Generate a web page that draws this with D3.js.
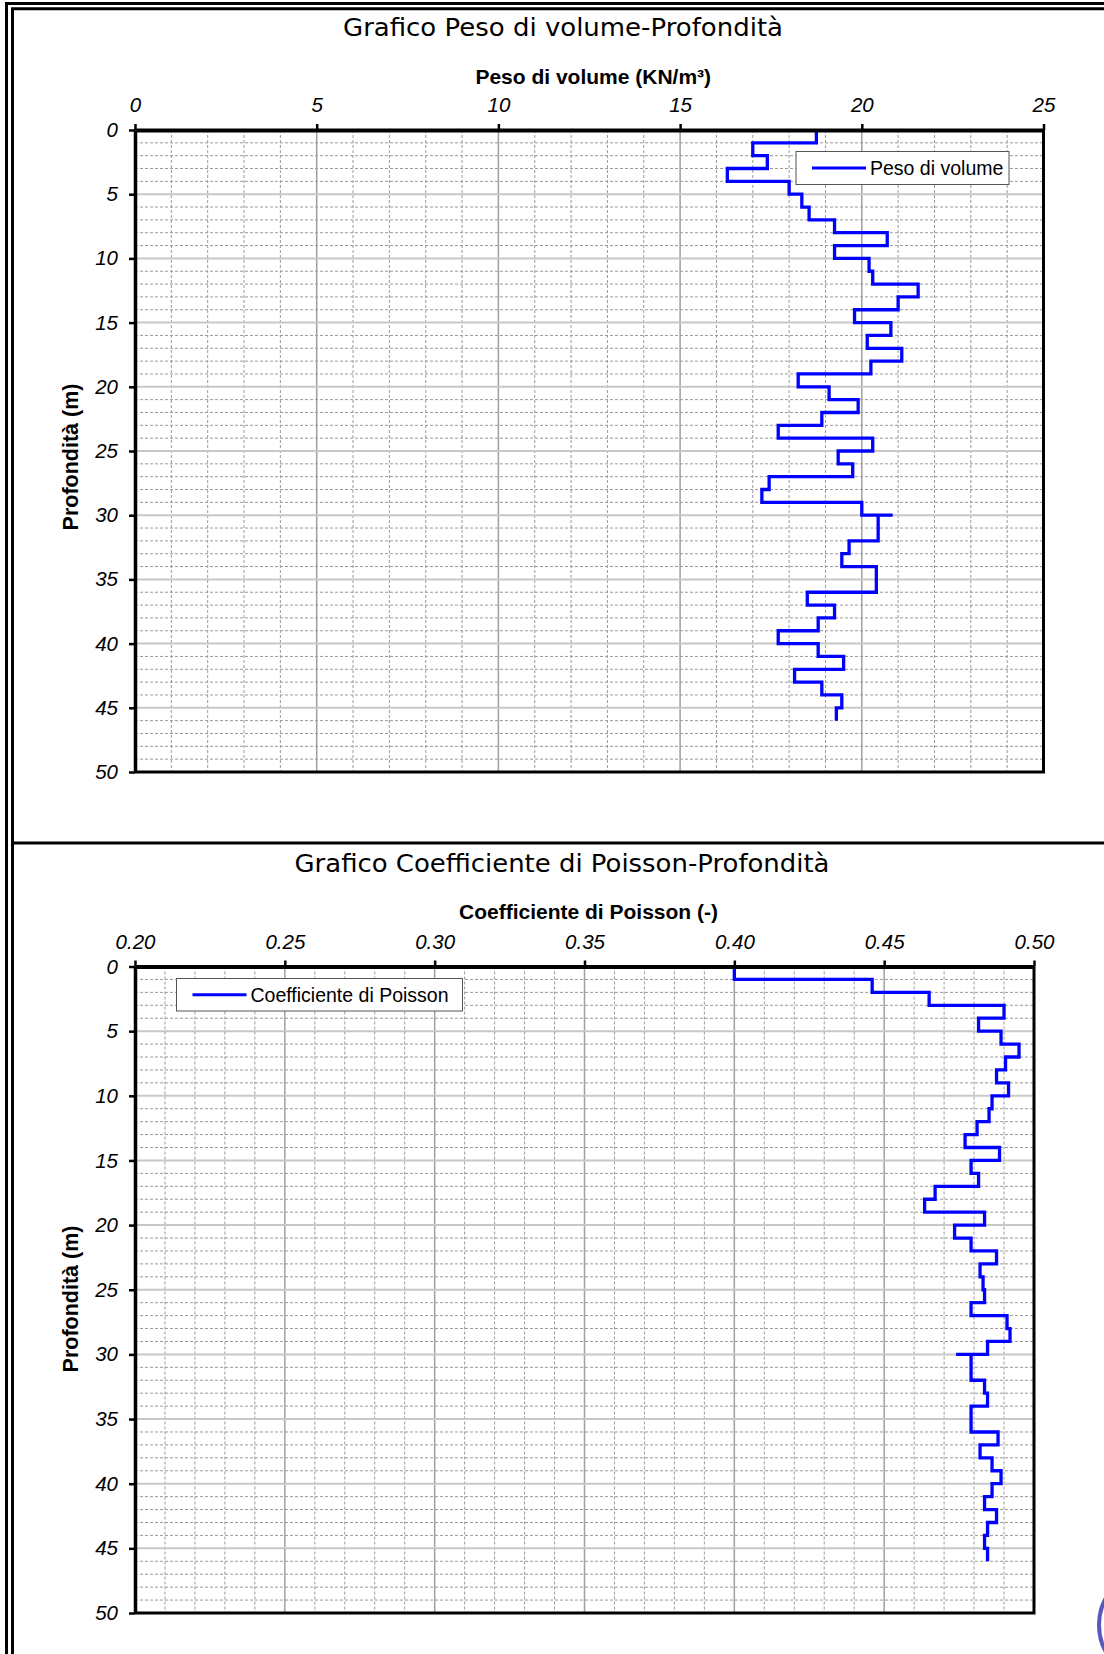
<!DOCTYPE html>
<html><head><meta charset="utf-8">
<script src="https://cdn.jsdelivr.net/npm/d3@7"></script>
<style>body{margin:0;background:#fff} svg{display:block}</style>
</head><body><svg id="c" width="1104" height="1654"></svg>
<script>
// ---- data ----
const layerTop    = [0,1,2,3,4,5,6,7,8,9,10,11,12,13,14,15,16,17,18,19,20,21,22,23,24,25,26,27,28,29,30,30,32,33,34,36,37,38,39,40,41,42,43,44,45];
const layerBottom = [1,2,3,4,5,6,7,8,9,10,11,12,13,14,15,16,17,18,19,20,21,22,23,24,25,26,27,28,29,30,30,32,33,34,36,37,38,39,40,41,42,43,44,45,46];
const pesoValues = [18.75,17.0,17.4,16.3,18.0,18.35,18.55,19.25,20.7,19.25,
  20.2,20.3,21.55,21.0,19.8,20.8,20.15,21.1,20.25,18.25,
  19.1,19.9,18.9,17.7,20.3,19.35,19.75,17.45,17.25,20.0,
  20.85,20.45,19.65,19.45,20.4,18.5,19.25,18.8,17.7,18.8,
  19.5,18.15,18.9,19.45,19.3];
const poissonValues = [0.400,0.446,0.465,0.490,0.4815,0.489,0.495,0.4905,0.4875,0.4915,
  0.486,0.485,0.481,0.477,0.4885,0.479,0.4815,0.467,0.4635,0.4835,
  0.4735,0.479,0.4875,0.482,0.483,0.4835,0.479,0.491,0.492,0.4845,
  0.474,0.479,0.4835,0.4845,0.479,0.488,0.482,0.486,0.489,0.486,
  0.4835,0.4875,0.4845,0.4835,0.4845];
const pesoTicks = [0,5,10,15,20,25];
const poissonTicks = [0.20,0.25,0.30,0.35,0.40,0.45,0.50];
const depthTicks = [0,5,10,15,20,25,30,35,40,45,50];

const svg = d3.select("#c");
svg.append("rect").attr("width",1104).attr("height",1654).attr("fill","#fff");

// ---- page frame ----
const frame = svg.append("g").attr("fill","none").attr("stroke","#000").attr("stroke-width",3);
frame.append("path").attr("d","M6.5,1700 V3.5 H1110");
frame.append("path").attr("d","M12.5,1700 V8.8 H1110");
frame.append("path").attr("d","M11,843 H1110");

// ---- stamp fragment ----
svg.append("circle").attr("cx",1154).attr("cy",1625).attr("r",55)
  .attr("fill","none").attr("stroke","#3b3bb0").attr("stroke-width",4).attr("opacity",0.85);

const FONT = "'Liberation Sans', Arial, sans-serif";

function drawChart(c) {
  const x = d3.scaleLinear().domain(c.xDomain).range([c.left, c.right]);
  const y = d3.scaleLinear().domain([0, 50]).range([c.top, c.bottom]);
  const g = svg.append("g");

  // grid
  const nMinor = Math.round((c.xDomain[1]-c.xDomain[0])/c.minorStep);
  const gx = d3.range(0, nMinor+1).map(i => c.xDomain[0] + i*c.minorStep);
  const majorEvery = Math.round(c.majorStep / c.minorStep);
  g.append("g").selectAll("line").data(gx.map((v,i)=>({v,i}))).join("line")
    .attr("x1", d=>x(d.v)).attr("x2", d=>x(d.v)).attr("y1", c.top).attr("y2", c.bottom)
    .attr("stroke", d=> d.i % majorEvery === 0 ? "#a0a0a0" : "#9a9a9a")
    .attr("stroke-width", d=> d.i % majorEvery === 0 ? 1.5 : 1)
    .attr("stroke-dasharray", d=> d.i % majorEvery === 0 ? null : "3,2");
  const gy = d3.range(0, 51);
  g.append("g").selectAll("line").data(gy).join("line")
    .attr("x1", c.left).attr("x2", c.right).attr("y1", d=>y(d)).attr("y2", d=>y(d))
    .attr("stroke", d=> d % 5 === 0 ? "#c8c8c8" : "#9a9a9a")
    .attr("stroke-width", d=> d % 5 === 0 ? 2 : 1)
    .attr("stroke-dasharray", d=> d % 5 === 0 ? null : "3,2");

  // series
  const pts = c.values.flatMap((v,i)=>[[v, layerTop[i]],[v, layerBottom[i]]]);
  g.append("path").datum(pts)
    .attr("d", d3.line().x(d=>x(d[0])).y(d=>y(d[1])))
    .attr("fill","none").attr("stroke","#0000ff").attr("stroke-width",3.3)
    .attr("stroke-linejoin","miter");

  // plot border
  g.append("path").attr("d", `M${c.right},${c.top} V${c.bottom} H${c.left}`)
    .attr("fill","none").attr("stroke","#000").attr("stroke-width",3);

  // axes
  const ax = g.append("g").attr("transform",`translate(0,${c.top})`)
    .call(d3.axisTop(x).tickValues(c.xTicks).tickFormat(c.xFmt).tickSize(6).tickSizeOuter(0).tickPadding(12));
  ax.select(".domain").attr("stroke-width",4);
  ax.selectAll(".tick line").attr("stroke-width",2.5);
  ax.selectAll("text").attr("font-family",FONT).attr("font-style","italic").attr("font-size",20.5).attr("fill","#000");

  const ay = g.append("g").attr("transform",`translate(${c.left},0)`)
    .call(d3.axisLeft(y).tickValues(depthTicks).tickSize(6).tickSizeOuter(0).tickPadding(11));
  ay.select(".domain").attr("stroke-width",3.5);
  ay.selectAll(".tick line").attr("stroke-width",2.5);
  ay.selectAll("text").attr("font-family",FONT).attr("font-style","italic").attr("font-size",20.5).attr("fill","#000");

  // titles
  g.append("text").attr("x", c.titleX).attr("y", c.titleY).attr("text-anchor","middle")
    .attr("font-family","'DejaVu Sans', Verdana, sans-serif").attr("font-size",25.5)
    .attr("textLength", c.titleW).attr("lengthAdjust","spacingAndGlyphs")
    .text(c.title);
  g.append("text").attr("x", (c.left+c.right)/2 + 4).attr("y", c.axisTitleY).attr("text-anchor","middle")
    .attr("font-family",FONT).attr("font-weight","bold").attr("font-size",21)
    .text(c.axisTitle);
  g.append("text").attr("transform",`translate(70,${c.yTitleY}) rotate(-90)`).attr("text-anchor","middle")
    .attr("dy","0.35em").attr("font-family",FONT).attr("font-weight","bold").attr("font-size",21.5)
    .text("Profondità (m)");

  // legend
  const L = c.legend;
  const lg = g.append("g");
  lg.append("rect").attr("x",L.x).attr("y",L.y).attr("width",L.w).attr("height",L.h)
    .attr("fill","#fff").attr("stroke","#555").attr("stroke-width",1);
  lg.append("line").attr("x1",L.x+16).attr("x2",L.x+70).attr("y1",L.y+L.h/2).attr("y2",L.y+L.h/2)
    .attr("stroke","#0000ff").attr("stroke-width",3);
  lg.append("text").attr("x",L.x+74).attr("y",L.y+L.h/2).attr("dy","0.35em")
    .attr("font-family",FONT).attr("font-size",19.5).text(c.legendLabel);
}

drawChart({
  left:135, right:1043.5, top:130, bottom:772,
  xDomain:[0,25], minorStep:1, majorStep:5, xTicks:pesoTicks, xFmt:d3.format("d"),
  values:pesoValues,
  title:"Grafico Peso di volume-Profondità", titleX:563, titleY:36, titleW:440,
  axisTitle:"Peso di volume (KN/m³)", axisTitleY:84, yTitleY:457,
  legend:{x:796, y:151.5, w:213, h:33}, legendLabel:"Peso di volume"
});
drawChart({
  left:135, right:1034, top:966.5, bottom:1613,
  xDomain:[0.20,0.50], minorStep:0.01, majorStep:0.05, xTicks:poissonTicks, xFmt:d3.format(".2f"),
  values:poissonValues,
  title:"Grafico Coefficiente di Poisson-Profondità", titleX:562, titleY:872, titleW:535,
  axisTitle:"Coefficiente di Poisson (-)", axisTitleY:919, yTitleY:1299,
  legend:{x:176.5, y:978.5, w:286, h:32.5}, legendLabel:"Coefficiente di Poisson"
});
</script></body></html>
